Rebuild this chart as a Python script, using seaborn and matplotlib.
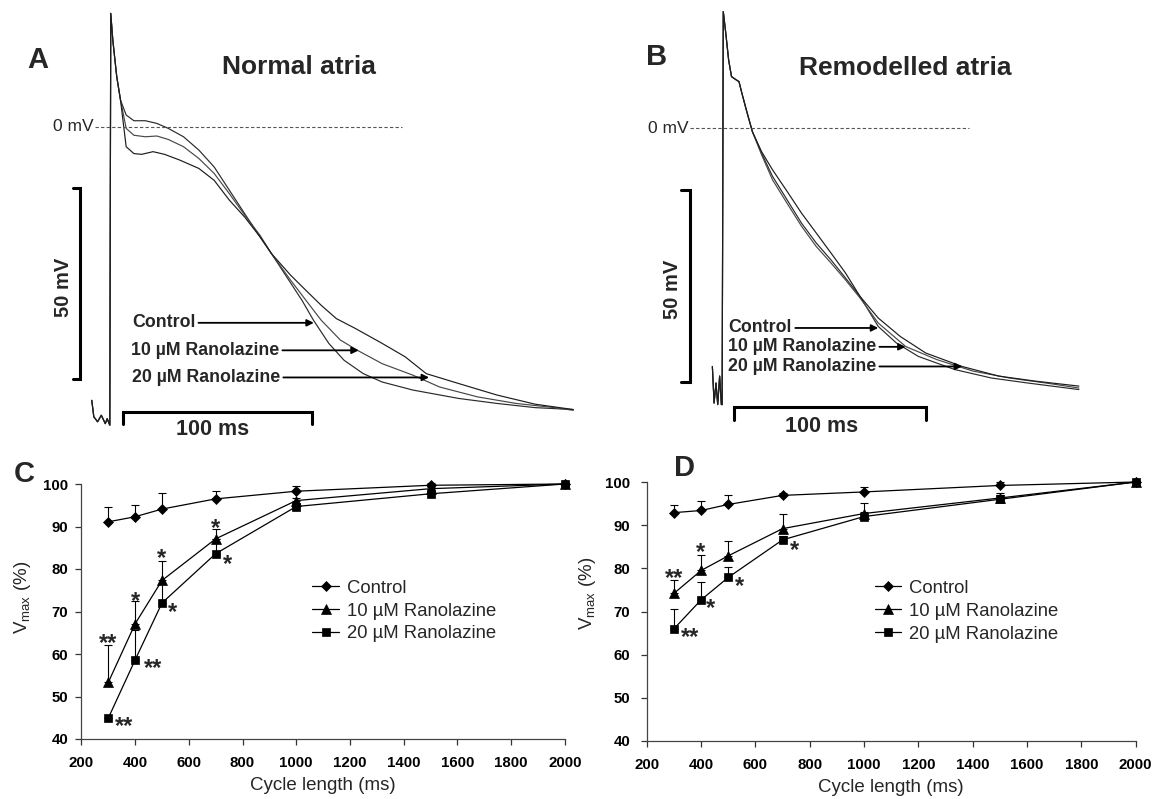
import numpy as np
import pandas as pd
import matplotlib
matplotlib.use("Agg")
import matplotlib.pyplot as plt
import seaborn as sns

sns.set_style("ticks")
plt.rcParams['font.family'] = ['Liberation Sans', 'DejaVu Sans']
plt.rcParams['mathtext.default'] = 'regular'

# ---------------- Panel A: action potentials, normal atria (ms, mV) ----------------
a_start_t = [-9.8, -8.7, -6.7, -4.7, -2.6, -1.6, -0.2, 0.3, 1.4, 3.5, 5.5]
a_start_v = [-71.6, -75.9, -77.2, -75.5, -77.7, -76.4, -78.1, 29.7, 22.7, 13.1, 7.0]
a_ctrl_t = [8.5, 12.6, 18.7, 24.8, 30.9, 39.0, 47.2, 55.3, 63.4, 71.5, 79.7, 85.8, 93.9,
            102.0, 108.1, 116.3, 124.4, 134.6, 144.7, 161.0, 185.4, 205.7, 226.0, 246.3]
a_ctrl_v = [3.1, 1.6, 1.6, 0.9, -0.4, -2.6, -6.1, -10.5, -16.6, -22.7, -28.8, -33.2, -39.3,
            -45.4, -50.6, -56.7, -61.1, -64.6, -66.8, -68.9, -71.1, -72.4, -73.5, -74.0]
a_r10_t = [8.5, 12.6, 18.7, 24.8, 30.9, 39.0, 47.2, 55.3, 63.4, 71.5, 79.7, 85.8, 95.9,
           104.1, 112.2, 122.4, 131.5, 144.7, 161.0, 175.2, 195.5, 215.9, 236.2, 246.3]
a_r10_v = [-0.4, -2.2, -2.6, -2.4, -3.3, -5.2, -8.3, -12.2, -17.5, -23.1, -28.4, -33.2, -40.1,
           -45.4, -50.6, -55.8, -58.5, -62.0, -65.0, -68.1, -70.7, -72.4, -73.5, -74.2]
a_r20_t = [8.5, 12.6, 16.7, 22.8, 28.9, 37.0, 47.2, 55.3, 63.4, 71.5, 79.7, 85.8, 95.9,
           104.1, 112.2, 120.3, 130.5, 144.7, 156.9, 168.1, 185.4, 205.7, 226.0, 246.3]
a_r20_v = [-5.2, -7.0, -7.2, -6.5, -7.2, -8.7, -10.9, -14.0, -19.2, -23.6, -28.8, -33.2, -38.8,
           -42.8, -46.7, -50.2, -52.8, -56.7, -60.2, -64.6, -67.2, -70.2, -72.6, -74.0]

# ---------------- Panel B: action potentials, remodelled atria (ms, mV) ----------------
b_start_t = [-5.1, -4.2, -3.2, -2.3, -1.3, -0.4, 0.0, 0.6, 1.9, 3.4, 4.9, 6.9, 8.8, 10.1, 12.6, 15.8]
b_start_v = [-61.9, -71.4, -66.2, -71.8, -64.4, -71.8, -71.8, 30.3, 24.7, 17.7, 13.4, 12.7, 12.1, 9.5, 4.8, -0.9]
b_ctrl_t = [20.6, 26.3, 33.9, 41.5, 49.1, 56.8, 64.4, 72.0, 81.5, 91.0, 102.5, 121.5, 140.6, 159.6, 186.3]
b_ctrl_v = [-6.5, -12.5, -18.6, -24.7, -29.8, -34.2, -38.9, -43.7, -51.5, -55.8, -59.3, -62.7, -64.9, -66.2, -67.9]
b_r10_t = [20.6, 26.3, 33.9, 41.5, 49.1, 56.8, 64.4, 72.0, 81.5, 95.8, 112.0, 131.0, 150.1, 169.1, 186.3]
b_r10_v = [-6.9, -13.4, -19.5, -25.5, -30.7, -35.0, -39.4, -44.1, -50.6, -56.7, -60.1, -63.1, -64.9, -66.2, -67.5]
b_r20_t = [20.6, 26.3, 33.9, 41.5, 49.1, 56.8, 64.4, 72.0, 81.5, 93.0, 106.3, 125.3, 144.4, 163.4, 186.3]
b_r20_v = [-6.1, -10.8, -16.4, -22.1, -27.2, -32.4, -37.6, -43.7, -49.3, -54.1, -58.4, -61.9, -64.4, -65.7, -67.0]

# ---------------- Panels C, D: Vmax vs cycle length ----------------
cycle_length = [300, 400, 500, 700, 1000, 1500, 2000]
conditions = ['Control', '10 µM Ranolazine', '20 µM Ranolazine']

c_control = [91.1, 92.3, 94.1, 96.5, 98.3, 99.7, 100.0]
c_control_err = [3.4, 2.8, 3.8, 1.9, 1.2, 0.5, 0.0]
c_r10 = [53.3, 67.1, 77.3, 87.1, 96.1, 98.9, 100.0]
c_r10_err = [8.9, 5.3, 4.7, 2.2, 0.6, 0.5, 0.0]
c_r20 = [44.9, 58.6, 72.0, 83.6, 94.7, 97.7, 100.0]
c_r20_err = [0.0, 7.1, 4.5, 3.5, 0.8, 0.8, 0.0]

d_control = [92.9, 93.4, 94.8, 96.9, 97.7, 99.2, 100.0]
d_control_err = [1.7, 2.2, 2.1, 0.6, 1.2, 0.7, 0.0]
d_r10 = [74.2, 79.5, 82.9, 89.2, 92.7, 96.3, 100.0]
d_r10_err = [3.1, 3.5, 3.4, 3.5, 2.4, 1.1, 0.0]
d_r20 = [66.0, 72.7, 77.9, 86.6, 92.0, 96.0, 100.0]
d_r20_err = [4.5, 4.1, 2.5, 1.0, 1.0, 1.0, 0.0]

# significance marks (cycle length, Vmax, label)
c_sig_x = [300, 360, 400, 465, 500, 540, 700, 745]
c_sig_y = [63.8, 44.3, 73.5, 57.8, 83.7, 71.0, 90.7, 82.3]
c_sig_t = ['**', '**', '*', '**', '*', '*', '*', '*']
d_sig_x = [302, 360, 396, 435, 542, 744]
d_sig_y = [78.8, 65.3, 85.0, 72.0, 77.1, 85.4]
d_sig_t = ['**', '**', '*', '*', '*', '*']

# ---------------- figure ----------------
W, H = 1162, 799
fig = plt.figure(figsize=(W / 100, H / 100), dpi=100)


def box(x0, y0, x1, y1):
    return [x0 / W, 1 - y1 / H, (x1 - x0) / W, (y1 - y0) / H]


trace_colors = ['#2a2a2a', '#474747', '#1c1c1c']
arrow_kw = dict(arrowstyle='-|>', color='black', lw=1.3, mutation_scale=10,
                shrinkA=0, shrinkB=0)


def draw_ap_panel(ax, start_t, start_v, traces, letter, letter_xy, title, title_xy,
                  zero_x, dash_end, vbar_x, vbar_tick, vbar_lab, hbar, hbar_lab,
                  labels_xy, tips):
    ax.axis('off')
    for (t, v), col in zip(traces, trace_colors):
        sns.lineplot(x=start_t + t, y=start_v + v, ax=ax, sort=False, estimator=None,
                     color=col, lw=0.85)
    # 0 mV reference
    ax.plot([zero_x + 0.5, dash_end], [0, 0], ls=(0, (3, 2)), color='#555555', lw=0.8)
    ax.text(zero_x, 0, '0 mV', ha='right', va='center', fontsize=12.5)
    # scale bars
    ax.plot([vbar_tick, vbar_x, vbar_x, vbar_tick], [-16, -16, -66, -66],
            color='black', lw=2.2, solid_joinstyle='miter')
    ax.text(vbar_lab[0], vbar_lab[1], '50 mV', rotation=90, ha='center', va='center',
            fontsize=14.5, fontweight='bold')
    ax.plot([hbar[0], hbar[0], hbar[1], hbar[1]], [hbar[3], hbar[2], hbar[2], hbar[3]],
            color='black', lw=2.2, solid_joinstyle='miter')
    ax.text(hbar_lab[0], hbar_lab[1], '100 ms', ha='center', va='center',
            fontsize=15.5, fontweight='bold')
    # labels
    ax.text(letter_xy[0], letter_xy[1], letter, ha='center', va='center',
            fontsize=21, fontweight='bold')
    ax.text(title_xy[0], title_xy[1], title, ha='center', va='center',
            fontsize=19, fontweight='bold')
    for name, (lx, ly), tip in zip(conditions, labels_xy, tips):
        ax.annotate(name, xy=(tip, ly), xytext=(lx, ly), ha='left', va='center',
                    fontsize=12.8, fontweight='bold', arrowprops=arrow_kw)


axA = fig.add_axes(box(0, 0, 590, 455))
axA.set_xlim(-58.6, 255.2)
axA.set_ylim(-85.9, 33.2)
draw_ap_panel(axA, a_start_t, a_start_v,
              [(a_ctrl_t, a_ctrl_v), (a_r10_t, a_r10_v), (a_r20_t, a_r20_v)],
              'A', (-38.5, 17.5), 'Normal atria', (100.4, 15.6),
              -8.7, 155.4, -16.3, -20.0, (-25.0, -41.9),
              (7.0, 107.2, -74.6, -77.9), (54.3, -79.3),
              [(11.5, -51.3), (11.0, -58.5), (11.5, -65.6)], [108.3, 132.2, 169.6])

axB = fig.add_axes(box(590, 0, 1162, 455))
axB.set_xlim(-69.0, 229.7)
axB.set_ylim(-84.9, 33.3)
draw_ap_panel(axB, b_start_t, b_start_v,
              [(b_ctrl_t, b_ctrl_v), (b_r10_t, b_r10_v), (b_r20_t, b_r20_v)],
              'B', (-34.3, 18.5), 'Remodelled atria', (95.8, 15.6),
              -17.5, 129.1, -16.7, -21.4, (-26.1, -42.0),
              (6.3, 106.3, -72.4, -75.9), (52.0, -77.4),
              [(3.4, -51.9), (3.0, -56.8), (3.0, -61.9)], [81.5, 95.8, 125.3])


def draw_vmax_panel(ax, series, errs, sig_x, sig_y, sig_t, letter, letter_px,
                    legend_anchor, ylab_xy, ytick_pad):
    markers = ['D', '^', 's']
    msizes = [4.6, 6.5, 5.4]
    for name, vals, err, mk, ms in zip(conditions, series, errs, markers, msizes):
        ax.errorbar(cycle_length, vals, yerr=[np.zeros(len(err)), err], fmt='none',
                    ecolor='black', elinewidth=0.8, capsize=2.6, capthick=0.8,
                    zorder=2, clip_on=False)
        sns.lineplot(x=cycle_length, y=vals, ax=ax, color='black', lw=0.9,
                     marker=mk, markersize=ms, mec='black', mfc='black', mew=0.5,
                     label=name, zorder=3, clip_on=False)
    for x, y, s in zip(sig_x, sig_y, sig_t):
        ax.annotate(s, xy=(x, y), xytext=(0, -8.5), textcoords='offset points',
                    ha='center', va='baseline', fontsize=17, fontweight='bold')
    ax.set_xlim(200, 2000)
    ax.set_ylim(40, 100)
    ax.set_xticks(range(200, 2001, 200))
    ax.set_yticks(range(40, 101, 10))
    ax.tick_params(axis='x', length=4, width=0.9, pad=8.5, labelsize=10.8, colors='#333333',
                   labelcolor='black')
    ax.tick_params(axis='y', length=4, width=0.9, pad=ytick_pad, labelsize=10.8,
                   colors='#333333', labelcolor='black')
    for lab in ax.get_xticklabels() + ax.get_yticklabels():
        lab.set_fontweight('bold')
    for side in ['top', 'right']:
        ax.spines[side].set_visible(False)
    for side in ['left', 'bottom']:
        ax.spines[side].set_color('#444444')
        ax.spines[side].set_linewidth(0.9)
    ax.set_xlabel('Cycle length (ms)', fontsize=13.5)
    ax.xaxis.set_label_coords(0.5, -0.148)
    ax.set_ylabel('V$_{max}$ (%)', fontsize=13.5)
    ax.yaxis.set_label_coords(ylab_xy[0], ylab_xy[1])
    ax.legend(frameon=False, loc='upper left', bbox_to_anchor=legend_anchor,
              fontsize=13.3, handlelength=1.45, handletextpad=0.4, labelspacing=0.32,
              borderpad=0, borderaxespad=0)
    fig.text(letter_px[0] / W, 1 - letter_px[1] / H, letter, ha='center', va='center',
             fontsize=21, fontweight='bold')


axC = fig.add_axes(box(81.4, 484, 564.8, 739))
draw_vmax_panel(axC, [c_control, c_r10, c_r20], [c_control_err, c_r10_err, c_r20_err],
                c_sig_x, c_sig_y, c_sig_t, 'C', (24, 474), (0.478, 0.625),
                (-0.101, 0.557), 5.5)

axD = fig.add_axes(box(646.8, 482, 1135.7, 741))
draw_vmax_panel(axD, [d_control, d_r10, d_r20], [d_control_err, d_r10_err, d_r20_err],
                d_sig_x, d_sig_y, d_sig_t, 'D', (684, 468), (0.466, 0.622),
                (-0.1006, 0.571), 8)

fig.savefig('out.png', dpi=100)
